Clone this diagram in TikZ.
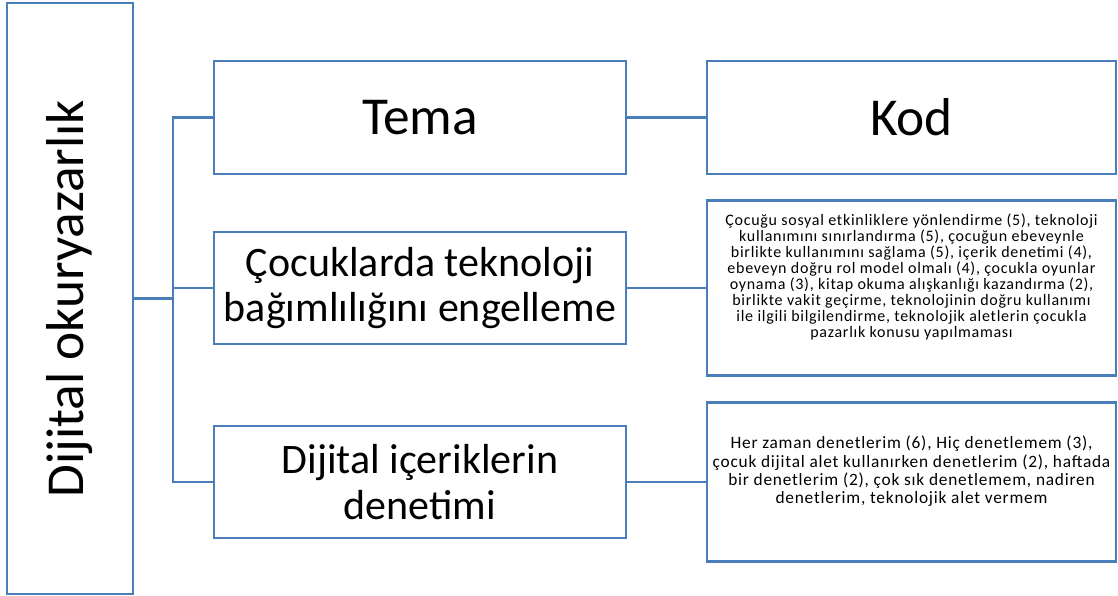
\documentclass[tikz,border=0pt]{standalone}
\usepackage{fontspec}
\setmainfont{Carlito}
\usetikzlibrary{positioning}
\definecolor{boxblue}{RGB}{74,126,187}

\begin{document}
\begin{tikzpicture}[x=0.75pt,y=-0.75pt,
    box/.style={draw=boxblue,line width=1.6pt,rectangle,inner sep=1pt,align=center},
    temabox/.style={box,minimum width=309pt,minimum height=84pt},
    kodbox/.style={box,minimum width=306.75pt},
    bigtext/.style={font=\fontsize{40}{44}\selectfont},
    midtext/.style={font=\fontsize{31.5}{34}\selectfont},
    kodtext/.style={font=\fontsize{12}{12}\selectfont\addfontfeature{LetterSpace=4.5},text depth=18pt},
    kodtextb/.style={font=\fontsize{13}{13.7}\selectfont\addfontfeature{LetterSpace=4.5},text depth=18pt},
    link/.style={draw=boxblue,line width=1.6pt}]
\useasboundingbox (0,0) rectangle (1118,596);
    \node[box,bigtext,rotate=90,minimum width=443.25pt,minimum height=94.5pt] (root) at (70,298.5) {Dijital okuryazarlık};
    \coordinate (hub) at (173,298.5);
    % tema column
    \node[temabox,bigtext,minimum height=84.75pt] (tema) at (420,117.5) {Tema};
    \node[temabox,midtext] (tema1) at (420,288) {Çocuklarda teknoloji\\bağımlılığını engelleme};
    \node[temabox,midtext] (tema2) at (420,482) {Dijital içeriklerin\\denetimi};
    % kod column
    \node[kodbox,bigtext,minimum height=84.75pt] (kod) at (911.5,117.5) {Kod};
    \node[kodbox,kodtext,minimum height=131.25pt] (kod1) at (911.5,288) {Çocuğu sosyal etkinliklere yönlendirme (5), teknoloji\\kullanımını sınırlandırma (5), çocuğun ebeveynle\\birlikte kullanımını sağlama (5), içerik denetimi (4),\\ebeveyn doğru rol model olmalı (4), çocukla oyunlar\\oynama (3), kitap okuma alışkanlığı kazandırma (2),\\birlikte vakit geçirme, teknolojinin doğru kullanımı\\ile ilgili bilgilendirme, teknolojik aletlerin çocukla\\pazarlık konusu yapılmaması};
    \node[kodbox,kodtextb,minimum height=119.25pt] (kod2) at (911.5,482) {Her zaman denetlerim (6), Hiç denetlemem (3),\\çocuk dijital alet kullanırken denetlerim (2), haftada\\bir denetlerim (2), çok sık denetlemem, nadiren\\denetlerim, teknolojik alet vermem};
    % connectors
    \draw[link] (root) -- (hub);
    \draw[link] (hub) |- (tema);
    \draw[link] (hub) |- (tema1);
    \draw[link] (hub) |- (tema2);
    \draw[link] (tema) -- (kod);
    \draw[link] (tema1) -- (kod1);
    \draw[link] (tema2) -- (kod2);
\end{tikzpicture}
\end{document}
